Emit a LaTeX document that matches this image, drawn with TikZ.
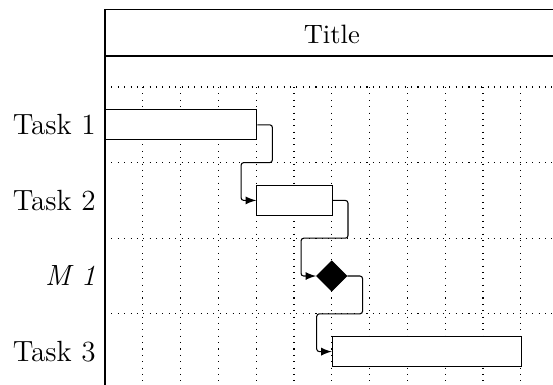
\documentclass[tikz,border=0pt]{standalone}
\usepackage{tikz}
\usetikzlibrary{shapes,arrows,positioning,calc,shapes.geometric}

\begin{document}
\begin{tikzpicture}[
    gridline/.style={dotted},
    bar/.style={rectangle, draw, fill=white, minimum height=0.4cm, inner sep=0pt, anchor=west},
    milestone/.style={diamond, draw, fill=black, minimum size=0.4cm, inner sep=0pt},
    rowlabel/.style={anchor=east, font=\fontsize{11}{13}\selectfont},
    link/.style={-latex, rounded corners=1pt}
]
    \useasboundingbox (-1.389,-3.94) rectangle (5.926,1.151);
    % grid
    \foreach \x in {1,...,11}
        \draw[gridline] (\x*0.5,0) -- (\x*0.5,-4.2);
    \foreach \y in {0,...,3}
        \draw[gridline] (0,-\y) -- (6,-\y);
    % frame and title
    \draw (0,-4.2) -- (0,1.02) -- (6,1.02);
    \draw (0,0.41) -- (6,0.41);
    \node (title) at (3,0.7) {Title};
    % labels
    \node[rowlabel] (lbl1) at (0,-0.5) {Task 1};
    \node[rowlabel] (lbl2) at (0,-1.5) {Task 2};
    \node[rowlabel] (lbl3) at (0,-2.5) {\textit{M 1}};
    \node[rowlabel] (lbl4) at (0,-3.5) {Task 3};
    % bars
    \node[bar, minimum width=2cm] (t1) at (0,-0.5) {};
    \node[bar, minimum width=1cm] (t2) at (2,-1.5) {};
    \node[milestone] (m1) at (3,-2.5) {};
    \node[bar, minimum width=2.5cm] (t3) at (3,-3.5) {};
    % links
    \draw[link] (t1.east) -- ++(0.2,0) -- ++(0,-0.5) -| ($(t2.west)+(-0.2,0)$) -- (t2.west);
    \draw[link] (t2.east) -- ++(0.2,0) -- ++(0,-0.5) -| ($(m1.west)+(-0.2,0)$) -- (m1.west);
    \draw[link] (m1.east) -- ++(0.2,0) -- ++(0,-0.5) -| ($(t3.west)+(-0.2,0)$) -- (t3.west);
\end{tikzpicture}
\end{document}
